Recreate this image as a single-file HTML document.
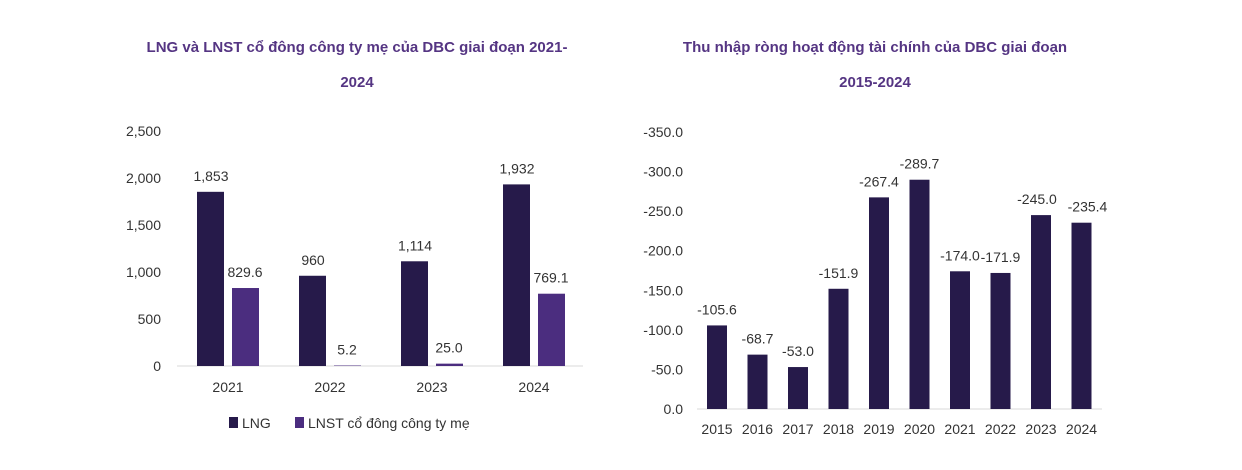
<!DOCTYPE html>
<html><head><meta charset="utf-8"><style>
body{margin:0;background:#fff;font-family:"Liberation Sans",sans-serif;}
svg text{font-family:"Liberation Sans",sans-serif;}
</style></head><body>
<svg width="1242" height="465" xmlns="http://www.w3.org/2000/svg">
<text x="357" y="52" text-anchor="middle" font-size="15" font-weight="bold" fill="#553583">LNG và LNST cổ đông công ty mẹ của DBC giai đoạn 2021-</text>
<text x="357" y="87" text-anchor="middle" font-size="15" font-weight="bold" fill="#553583">2024</text>
<text x="875" y="52" text-anchor="middle" font-size="15" font-weight="bold" fill="#553583">Thu nhập ròng hoạt động tài chính của DBC giai đoạn</text>
<text x="875" y="87" text-anchor="middle" font-size="15" font-weight="bold" fill="#553583">2015-2024</text>
<g id="left"></g>
<g id="right"></g>
<rect x="229" y="417" width="9" height="11" fill="#261a4a"/>
<text x="242" y="428" font-size="14" fill="#333">LNG</text>
<rect x="295" y="417" width="9" height="11" fill="#4b2d7f"/>
<text x="308" y="428" font-size="14" fill="#333">LNST cổ đông công ty mẹ</text>
</svg>
<script>
const leftCats=["2021","2022","2023","2024"];
const lngVals=[1853,960,1114,1932];
const lnstVals=[829.6,5.2,25.0,769.1];
const lngLabels=["1,853","960","1,114","1,932"];
const lnstLabels=["829.6","5.2","25.0","769.1"];
const leftTicks=[0,500,1000,1500,2000,2500];
const leftTickLabels=["0","500","1,000","1,500","2,000","2,500"];
const rightCats=["2015","2016","2017","2018","2019","2020","2021","2022","2023","2024"];
const rightVals=[-105.6,-68.7,-53.0,-151.9,-267.4,-289.7,-174.0,-171.9,-245.0,-235.4];
const rightTicks=[0,-50,-100,-150,-200,-250,-300,-350];
const NS="http://www.w3.org/2000/svg";
function mk(p,t,a,txt){const e=document.createElementNS(NS,t);for(const k in a)e.setAttribute(k,a[k]);if(txt!==undefined)e.textContent=txt;p.appendChild(e);return e;}
const L=document.getElementById('left');
const ly=v=>366-v/2500*235;
const lx=i=>228+i*102;
leftTicks.forEach((t,i)=>{const e=mk(L,'text',{x:161,y:ly(t)+5,'text-anchor':'end','font-size':14,fill:'#333'},leftTickLabels[i]);

});
const lb=mk(L,'line',{x1:177,x2:583,y1:366,y2:366,stroke:'#d9d9d9','stroke-width':1});


leftCats.forEach((c,i)=>{
const cx=lx(i);
const r1=mk(L,'rect',{x:cx-31,y:ly(lngVals[i]),width:27,height:366-ly(lngVals[i]),fill:'#261a4a'});


const r2=mk(L,'rect',{x:cx+4,y:ly(lnstVals[i]),width:27,height:366-ly(lnstVals[i]),fill:'#4b2d7f'});


const t1=mk(L,'text',{x:cx-17,y:ly(lngVals[i])-11,'text-anchor':'middle','font-size':14,fill:'#333'},lngLabels[i]);


const t2=mk(L,'text',{x:cx+17,y:ly(lnstVals[i])-11,'text-anchor':'middle','font-size':14,fill:'#333'},lnstLabels[i]);


const xt=mk(L,'text',{x:cx,y:392,'text-anchor':'middle','font-size':14,fill:'#333'},c);


});
const R=document.getElementById('right');
const ry=v=>409-(-v)/350*277;
const rx=i=>717+i*40.5;
rightTicks.forEach(t=>{const e=mk(R,'text',{x:683,y:ry(t)+5,'text-anchor':'end','font-size':14,fill:'#333'},t.toFixed(1));

});
const rb=mk(R,'line',{x1:697,x2:1102,y1:409,y2:409,stroke:'#d9d9d9','stroke-width':1});


rightCats.forEach((c,i)=>{
const cx=rx(i);
const r=mk(R,'rect',{x:cx-10,y:ry(rightVals[i]),width:20,height:409-ry(rightVals[i]),fill:'#261a4a'});


const t=mk(R,'text',{x:cx+(i==8?-4:i==9?6:0),y:ry(rightVals[i])-11,'text-anchor':'middle','font-size':14,fill:'#333'},rightVals[i].toFixed(1));


const xt=mk(R,'text',{x:cx,y:434,'text-anchor':'middle','font-size':14,fill:'#333'},c);


});
</script>
</body></html>
